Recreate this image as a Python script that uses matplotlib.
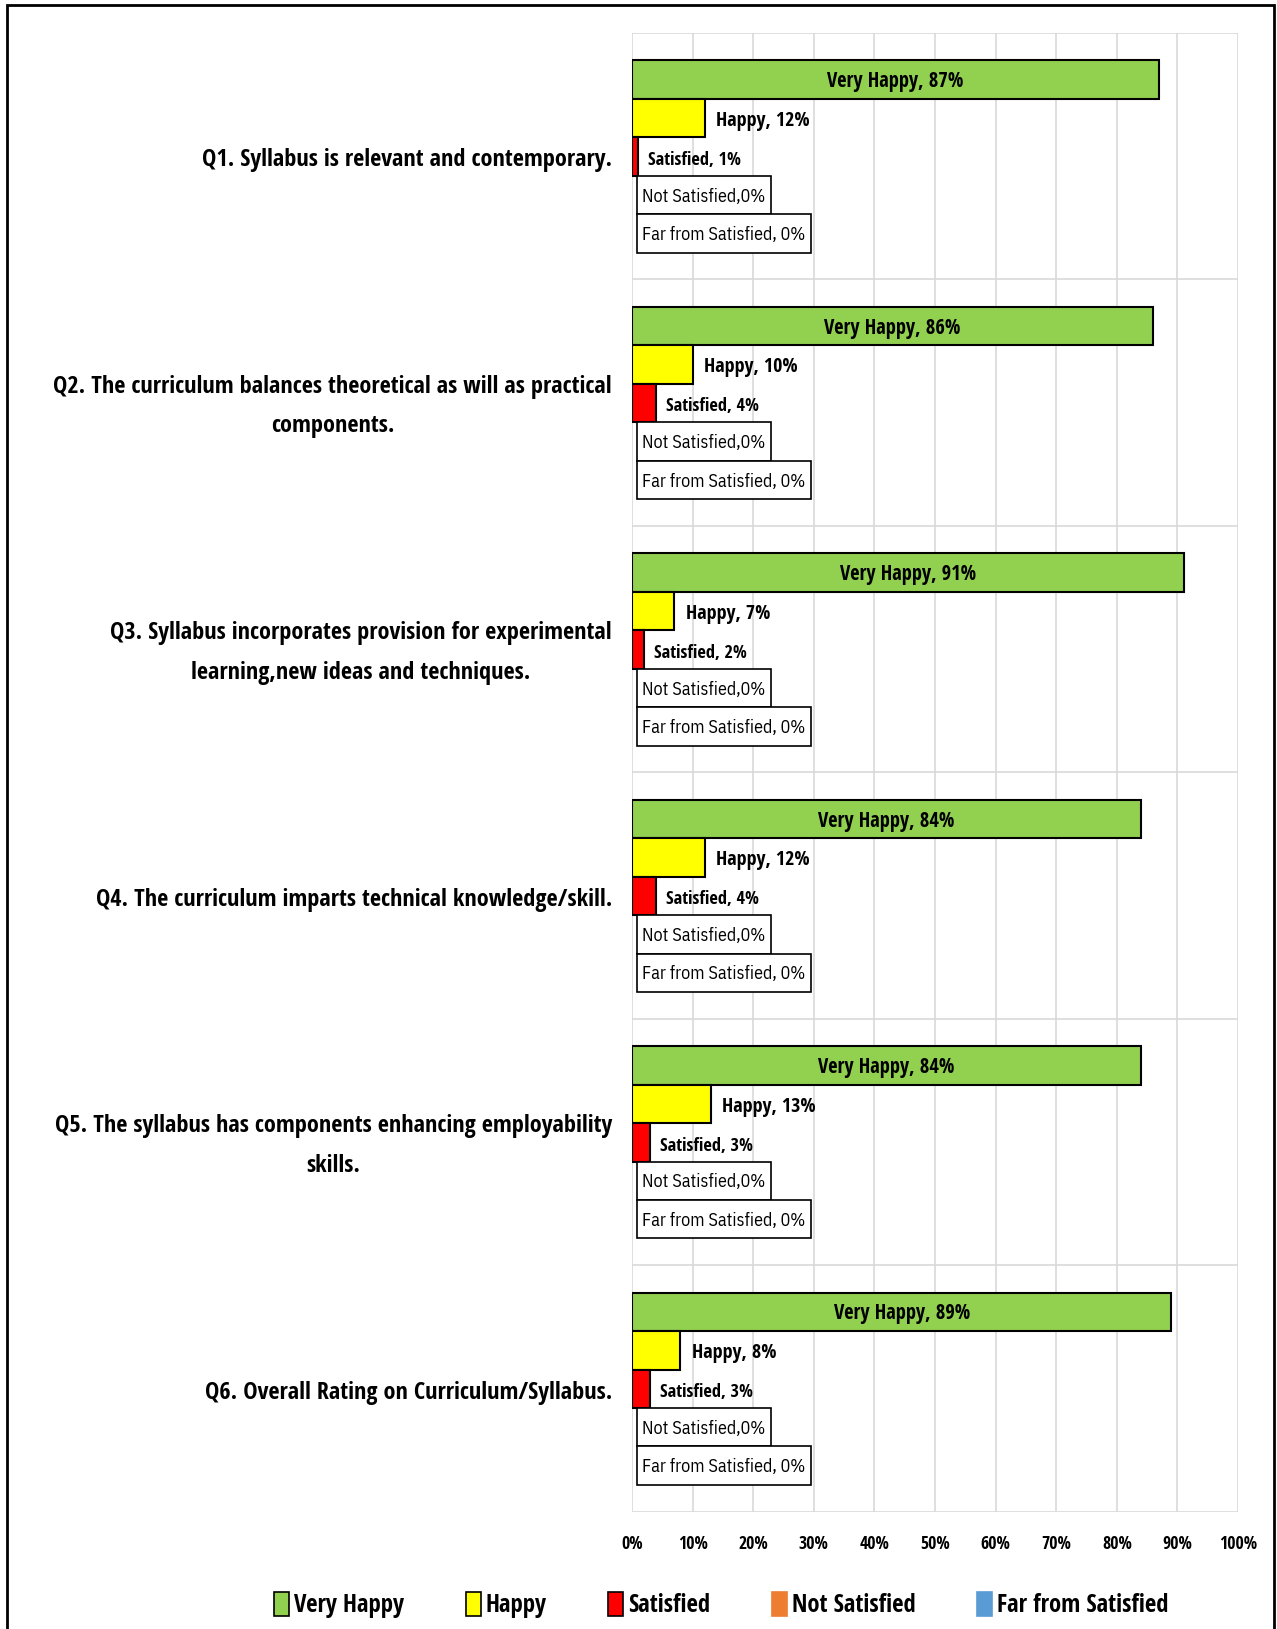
import matplotlib
matplotlib.use("Agg")
import matplotlib.pyplot as plt
from matplotlib.patches import Patch, Rectangle
import numpy as np

BOLD = ['Open Sans Condensed', 'PT Sans Narrow', 'DejaVu Sans']
REG = ['IBM Plex Sans Condensed', 'PT Sans Narrow', 'DejaVu Sans']
plt.rcParams['font.family'] = BOLD

questions = [
    "Q1. Syllabus is relevant and contemporary.",
    "Q2. The curriculum balances theoretical as will as practical\ncomponents.",
    "Q3. Syllabus incorporates provision for experimental\nlearning,new ideas and techniques.",
    "Q4. The curriculum imparts technical knowledge/skill.",
    "Q5. The syllabus has components enhancing employability\nskills.",
    "Q6. Overall Rating on Curriculum/Syllabus.",
]
series = ["Very Happy", "Happy", "Satisfied", "Not Satisfied", "Far from Satisfied"]
very_happy = [87, 86, 91, 84, 84, 89]
happy = [12, 10, 7, 12, 13, 8]
satisfied = [1, 4, 2, 4, 3, 3]
not_satisfied = [0, 0, 0, 0, 0, 0]
far_from = [0, 0, 0, 0, 0, 0]
colors = ["#92D050", "#FFFF00", "#FF0000", "#ED7D31", "#5B9BD5"]

values = [very_happy, happy, satisfied, not_satisfied, far_from]

fig = plt.figure(figsize=(12.77, 16.29), dpi=100)
ax = fig.add_axes([0.4949, 0.0721, 0.4746, 0.9078])
ax.set_xlim(0, 1)
ax.set_ylim(len(questions), 0)

bar_h = 0.156
start = 0.112
boxed = []
for j, (name, vals, col) in enumerate(zip(series, values, colors)):
    ys = np.arange(len(questions)) + start + bar_h * (j + 0.5)
    xs = np.array(vals) / 100.0
    ax.barh(ys, xs, height=bar_h, color=col, edgecolor='black',
            linewidth=[1.5 if v > 0 else 0 for v in vals], zorder=3)
    for y, x, v in zip(ys, xs, vals):
        if j == 0:
            ax.annotate(f"{name}, {v}%", (x / 2, y), xytext=(0, -1.5), textcoords='offset points',
                        ha='center', va='center', fontsize=14.8, fontweight='bold', zorder=4)
        elif j == 1:
            ax.annotate(f"{name}, {v}%", (x, y), xytext=(8, -2), textcoords='offset points',
                        ha='left', va='center', fontsize=14.4, fontweight='bold', zorder=4)
        elif j == 2:
            ax.annotate(f"{name}, {v}%", (x, y), xytext=(7, -2.5), textcoords='offset points',
                        ha='left', va='center', fontsize=13.2, fontweight='bold', zorder=4)
        else:
            sep = "," if j == 3 else ", "
            t = ax.annotate(f"{name}{sep}{v}%", (x + 0.017, y), xytext=(0, -1.2),
                            textcoords='offset points', ha='left', va='center',
                            fontsize=13, family=REG, zorder=5)
            boxed.append((t, y))

ticks = np.arange(0, 1.01, 0.1)
ax.set_xticks(ticks)
ax.set_xticklabels([f"{int(round(t * 100))}%" for t in ticks], fontsize=12.8, fontweight='bold')
ax.set_yticks(np.arange(len(questions) + 1))
ax.set_yticklabels([])
ax.tick_params(axis='both', length=0)
ax.tick_params(axis='x', pad=17)
ax.grid(True, color='#D9D9D9', linewidth=1.2, zorder=0)
for s in ax.spines.values():
    s.set_visible(False)

for i, q in enumerate(questions):
    ax.text(-0.033, i + 0.517, q, ha='right', va='center',
            multialignment='center', fontsize=17.5, fontweight='bold', linespacing=1.85)

# white boxes around the zero-value labels, sized from the rendered text
fig.canvas.draw()
inv = ax.transData.inverted()
for t, y in boxed:
    bb = t.get_window_extent()
    x1 = inv.transform((bb.x1 + 5, bb.y0))[0]
    ax.add_patch(Rectangle((0.0086, y - bar_h / 2), x1 - 0.0086, bar_h,
                           facecolor='white', edgecolor='black', linewidth=1.2, zorder=4))

handles = [Patch(facecolor=c, edgecolor=('black' if k < 3 else c), linewidth=1.2)
           for k, c in enumerate(colors)]
fig.legend(handles, series, loc='center', bbox_to_anchor=(0.565, 0.0147), ncol=5,
           frameon=False, handlelength=0.6, handleheight=1.1,
           handletextpad=0.2, columnspacing=2.5, prop={'weight': 'bold', 'size': 17.8})

fig.patches.append(Rectangle((7 / 1277, -0.05), (1274 - 7) / 1277, 1.05 - 5 / 1629,
                             transform=fig.transFigure, fill=False, ec='black', lw=2))

fig.savefig("out.png", dpi=100)
